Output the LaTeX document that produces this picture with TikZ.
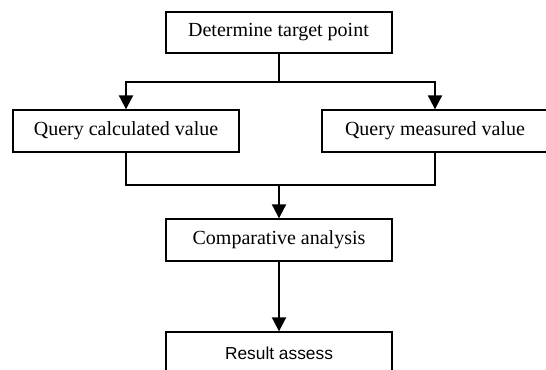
\documentclass[tikz,border=0pt]{standalone}
\usepackage{fontspec}
\setmainfont{Liberation Serif}
\newfontfamily\arialfont{Liberation Sans}
\usetikzlibrary{arrows.meta}
\begin{document}
\begin{tikzpicture}[x=0.75pt,y=-0.75pt,
  box/.style={draw,line width=1.5pt,minimum width=169.5pt,minimum height=31pt,inner sep=0pt,
    font=\fontsize{15}{18}\selectfont},
  link/.style={line width=1.5pt},
  arr/.style={link,-{Triangle[length=10.5pt,width=10.5pt]}}]
\clip (0,0) rectangle (546,370);
\fill[white] (0,0) rectangle (546,370);
\node[box] (top) at (278.5,32.5) {Determine target point};
\node[box] (q1) at (126,131) {Query calculated value};
\node[box] (q2) at (435,131) {Query measured value};
\node[box] (comp) at (279,240) {Comparative analysis};
\node[box,font=\arialfont\fontsize{13}{16}\selectfont] (res) at (279,353) {Result assess};
\coordinate (j1) at (278.5,82);
\coordinate (j2) at (279,185);
\draw[link] (top) -- (j1);
\draw[arr] (j1) -| (q1);
\draw[arr] (j1) -| (q2);
\draw[link] (q1) |- (j2);
\draw[link] (q2) |- (j2);
\draw[arr] (j2) -- (comp);
\draw[arr] (comp) -- (res);
\end{tikzpicture}
\end{document}
